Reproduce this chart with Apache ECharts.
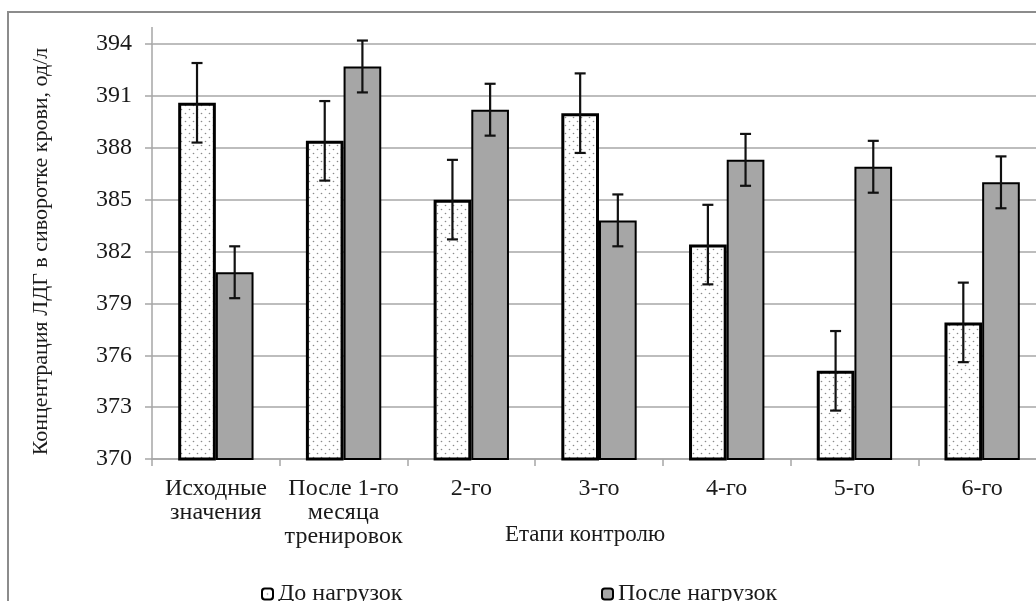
<!DOCTYPE html>
<html>
<head>
<meta charset="utf-8">
<script src="https://cdn.jsdelivr.net/npm/echarts@6/dist/echarts.min.js"></script>
<style>
html,body{margin:0;padding:0;background:#fff;overflow:hidden;}
#chart{width:1048px;height:601px;}
</style>
</head>
<body>
<div id="chart"></div>
<script>
// ---- data ----
const categories = ['Исходные\nзначения', 'После 1-го\nмесяца\nтренировок', '2-го', '3-го', '4-го', '5-го', '6-го'];
const seriesNames = ['До нагрузок', 'После нагрузок'];
const beforeValues = [390.6, 388.4, 385.0, 390.0, 382.4, 375.1, 377.9];
const afterValues  = [380.8, 392.7, 390.2, 383.8, 387.3, 386.9, 386.0];
const beforeErrors = [2.3, 2.3, 2.3, 2.3, 2.3, 2.3, 2.3];
const afterErrors  = [1.5, 1.5, 1.5, 1.5, 1.5, 1.5, 1.5];
const yMin = 370, yMax = 394, yStep = 3;
const xAxisTitle = 'Етапи контролю';
const yAxisTitle = 'Концентрация ЛДГ в сиворотке крови, од/л';

// ---- dotted pattern ----
function makeDots() {
  const c = document.createElement('canvas');
  c.width = 8; c.height = 8;
  const g = c.getContext('2d');
  g.fillStyle = '#ffffff';
  g.fillRect(0, 0, 8, 8);
  g.fillStyle = '#8a8a8a';
  g.beginPath(); g.arc(1.5, 1.5, 0.8, 0, Math.PI * 2); g.fill();
  g.beginPath(); g.arc(5.5, 5.5, 0.8, 0, Math.PI * 2); g.fill();
  return c;
}
const dotPattern = { image: makeDots(), repeat: 'repeat' };

const GAP = 0.41; // barCategoryGap
function errorSeries(values, errors, sign) {
  return {
    type: 'custom',
    z: 10,
    silent: true,
    data: values.map((v, i) => [i, v, errors[i]]),
    renderItem: function (params, api) {
      const i = api.value(0), v = api.value(1), e = api.value(2);
      const bw = api.size([1, 0])[0] * (1 - GAP) / 2;
      const c = api.coord([i, v]);
      const x = c[0] + sign * bw / 2;
      const top = api.coord([i, v + e])[1];
      const bot = api.coord([i, v - e])[1];
      const cap = 5.5;
      const st = { stroke: '#111', lineWidth: 2.2 };
      return {
        type: 'group',
        children: [
          { type: 'line', shape: { x1: x, y1: top, x2: x, y2: bot }, style: st },
          { type: 'line', shape: { x1: x - cap, y1: top, x2: x + cap, y2: top }, style: st },
          { type: 'line', shape: { x1: x - cap, y1: bot, x2: x + cap, y2: bot }, style: st }
        ]
      };
    }
  };
}

const FONT = '"Liberation Serif", "Times New Roman", serif';
const chart = echarts.init(document.getElementById('chart'), null, { renderer: 'canvas' });
chart.setOption({
  backgroundColor: '#ffffff',
  animation: false,
  textStyle: { fontFamily: FONT, color: '#1a1a1a' },
  graphic: [
    { type: 'rect', shape: { x: 8, y: 12, width: 1100, height: 700 }, style: { fill: 'none', stroke: '#8c8c8c', lineWidth: 2 }, silent: true },
    { type: 'line', shape: { x1: 152, y1: 27, x2: 152, y2: 44 }, style: { stroke: '#a6a6a6', lineWidth: 1.5 }, silent: true }
  ],
  grid: { left: 152, top: 44, bottom: 142, right: 2, containLabel: false },
  legend: [
    { data: [seriesNames[0]], left: 256, top: 577, itemWidth: 11, itemHeight: 11, textStyle: { fontFamily: FONT, fontSize: 24, color: '#1a1a1a' }, itemGap: 4 },
    { data: [seriesNames[1]], left: 596, top: 577, itemWidth: 11, itemHeight: 11, textStyle: { fontFamily: FONT, fontSize: 24, color: '#1a1a1a' }, itemGap: 4 }
  ],
  xAxis: {
    type: 'category',
    data: categories,
    boundaryGap: true,
    name: xAxisTitle,
    nameLocation: 'middle',
    nameGap: 64,
    nameMoveOverlap: false,
    nameTextStyle: { fontFamily: FONT, fontSize: 23, color: '#1a1a1a', padding: [0, 28, 0, 0] },
    axisLine: { lineStyle: { color: '#a6a6a6', width: 1.5 } },
    axisTick: { show: true, alignWithLabel: false, length: 7, lineStyle: { color: '#a6a6a6', width: 1.5 } },
    axisLabel: { interval: 0, margin: 18, fontFamily: FONT, fontSize: 24, lineHeight: 24, color: '#1a1a1a' },
    splitLine: { show: false }
  },
  yAxis: {
    type: 'value',
    min: yMin, max: yMax, interval: yStep,
    name: yAxisTitle,
    nameLocation: 'middle',
    nameGap: 100,
    nameTextStyle: { fontFamily: FONT, fontSize: 22, color: '#1a1a1a' },
    axisLine: { show: true, lineStyle: { color: '#a6a6a6', width: 1.5 } },
    axisTick: { show: true, length: 7, lineStyle: { color: '#a6a6a6', width: 1.5 } },
    axisLabel: { margin: 20, fontFamily: FONT, fontSize: 24, color: '#1a1a1a' },
    splitLine: { show: true, lineStyle: { color: '#bdbdbd', width: 2 } }
  },
  series: [
    {
      name: seriesNames[0], type: 'bar', data: beforeValues,
      barGap: '0%', barCategoryGap: (GAP * 100) + '%',
      itemStyle: { color: dotPattern, borderColor: '#000', borderWidth: 3 }
    },
    {
      name: seriesNames[1], type: 'bar', data: afterValues,
      barGap: '0%', barCategoryGap: (GAP * 100) + '%',
      itemStyle: { color: '#a6a6a6', borderColor: '#000', borderWidth: 2 }
    },
    errorSeries(beforeValues, beforeErrors, -1),
    errorSeries(afterValues, afterErrors, 1)
  ]
});
</script>
</body>
</html>
